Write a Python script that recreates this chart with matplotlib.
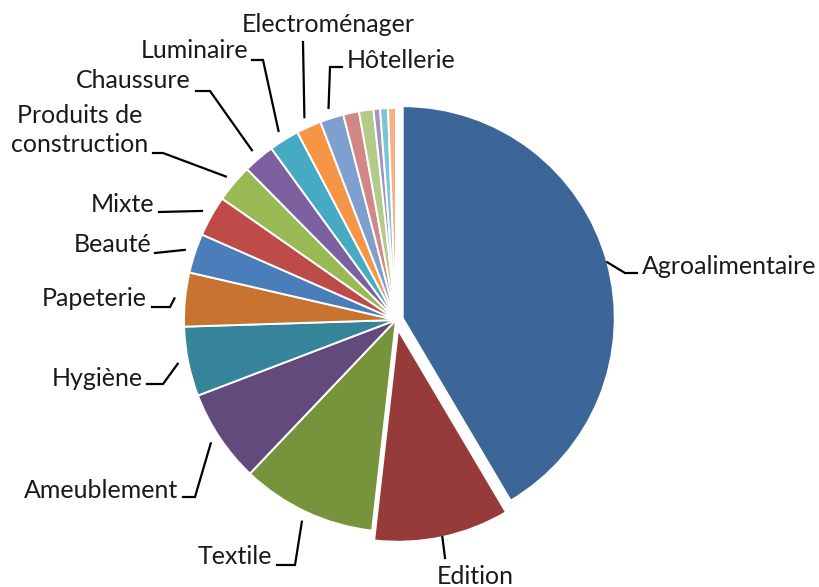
import numpy as np
import matplotlib
matplotlib.use("Agg")
import matplotlib.pyplot as plt

# shares by sector (%), clockwise from 12 o'clock
sectors = ["Agroalimentaire", "Edition", "Textile", "Ameublement", "Hygiène",
           "Papeterie", "Beauté", "Mixte", "Produits de\nconstruction", "Chaussure",
           "Luminaire", "Electroménager", "Hôtellerie", "", "", "", "", ""]
shares = [41.5, 10.3, 10.3, 7.1, 5.3, 4.1, 3.0, 3.1, 2.9, 2.4,
          2.3, 1.9, 1.8, 1.2, 1.1, 0.5, 0.6, 0.6]
colors = ["#3C6698", "#963A3A", "#77933C", "#624B7C", "#36849A", "#C8732F",
          "#4A7EBB", "#BE4B48", "#98B954", "#7D60A0", "#46AAC5", "#F69545",
          "#7F9FCF", "#D08786", "#B3CA88", "#A394BF", "#7DC3D6", "#F9B183"]
explode = [0.033, 0.047] + [0] * 16

# layout in pixels: pie centre and radius
W, H = 819, 587
CX, CY, R = 396, 320, 212

def px(x, y):
    return ((x - CX) / R, (CY - y) / R)

# label layout: text anchor (px), alignment, leader elbow points (px)
label_layout = {
    "Agroalimentaire": ((642, 267), "left", [(625, 273), (637, 273)]),
    "Edition": ((437, 576), "left", [(445, 558)]),
    "Textile": ((272, 556), "right", [(295, 565), (277, 565)]),
    "Ameublement": ((178, 490), "right", [(195, 497), (183, 497)]),
    "Hygiène": ((143, 378), "right", [(163, 384), (147, 384)]),
    "Papeterie": ((147, 298), "right", [(170, 307), (152, 307)]),
    "Beauté": ((151, 245), "right", [(155, 253)]),
    "Mixte": ((154, 204), "right", [(159, 212)]),
    "Produits de\nconstruction": ((148, 130), "right", [(163, 153), (153, 153)]),
    "Chaussure": ((191, 80), "right", [(210, 91), (196, 91)]),
    "Luminaire": ((248, 50), "right", [(263, 60), (252, 60)]),
    "Electroménager": ((242, 24), "left", [(303, 42)]),
    "Hôtellerie": ((347, 60), "left", [(330, 67), (342, 67)]),
}

fig = plt.figure(figsize=(W / 100, H / 100), dpi=100)
ax = fig.add_axes([0, 0, 1, 1])

wedges, _ = ax.pie(shares, colors=colors, explode=explode, startangle=90,
                   counterclock=False, radius=1.0,
                   wedgeprops=dict(edgecolor="white", linewidth=1.4))

for w, name, ex in zip(wedges, sectors, explode):
    if not name:
        continue
    (tx, ty), ha, elbows = label_layout[name]
    mid = np.deg2rad((w.theta1 + w.theta2) / 2)
    cx, cy = w.center
    r0 = 1.0 if ex > 0 else 1.05
    pts = [(cx + r0 * np.cos(mid), cy + r0 * np.sin(mid))]
    pts += [px(*p) for p in elbows]
    xs, ys = zip(*pts)
    ax.plot(xs, ys, color="black", linewidth=1.6, solid_joinstyle="miter")
    lx, ly = px(tx, ty)
    ax.text(lx, ly, name, ha=ha, va="center", fontsize=18,
            family="Lato", color="#1a1a1a", linespacing=1.3,
            multialignment="center" if "\n" in name else ha)

x0, y1 = px(0, 0)
x1, y0 = px(W, H)
ax.set_xlim(x0, x1)
ax.set_ylim(y0, y1)
ax.set_aspect("equal")
ax.axis("off")

fig.savefig("out.png", dpi=100)
